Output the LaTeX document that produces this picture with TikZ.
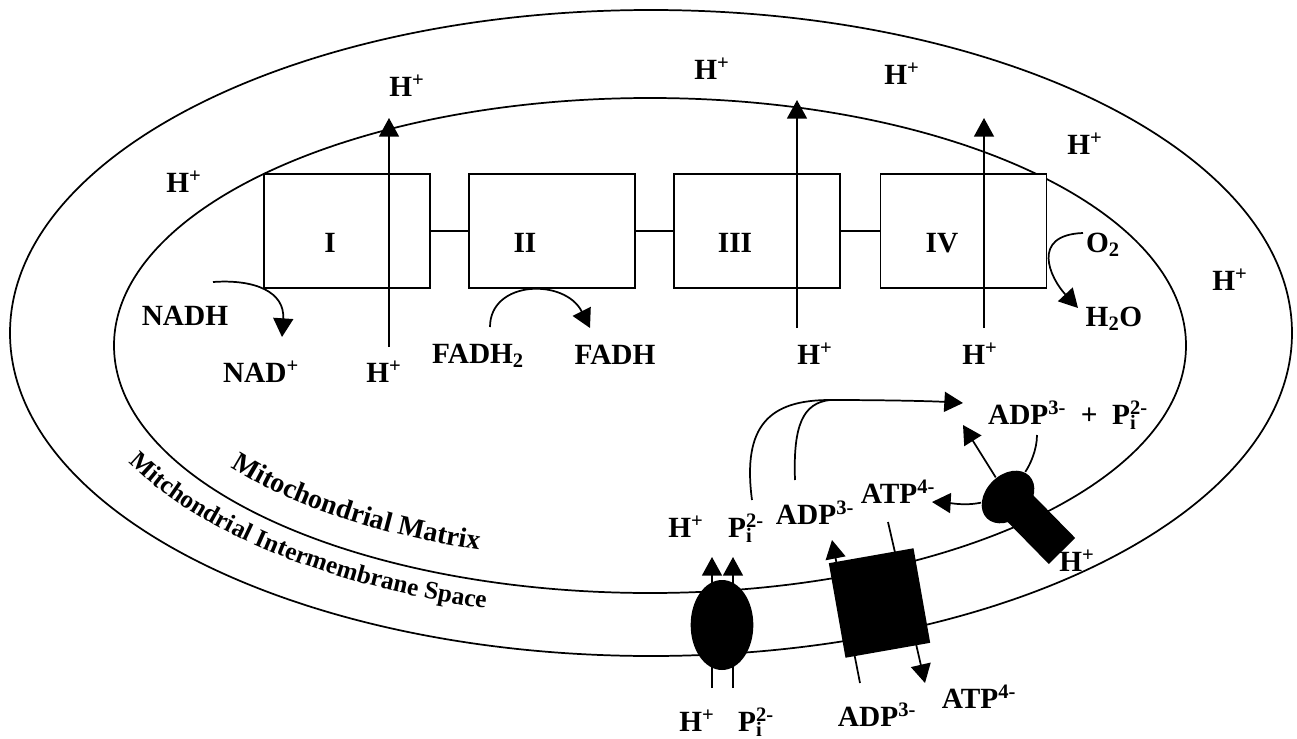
\documentclass[tikz,border=0pt]{standalone}
\usepackage{fontspec}
\setmainfont{Liberation Serif}
\usetikzlibrary{arrows.meta,shapes.geometric,decorations.text}
\newcommand{\Hp}{H\textsuperscript{+}}
\newcommand{\Pii}{P\rlap{\textsubscript{i}}\textsuperscript{2-}}

\begin{document}
\begin{tikzpicture}[x=0.75pt, y=-0.75pt, line width=1.3pt,
    >={Triangle[length=14pt, width=15pt]},
    lbl/.style={font=\fontsize{22}{24}\selectfont\bfseries, inner sep=0pt},
    cplx/.style={draw, fill=white, minimum width=124.5pt, minimum height=85.5pt},
    prot/.style={fill, inner sep=0pt},
    memb/.style 2 args={decorate, decoration={text along path,
        text={|\fontsize{#1}{24}\selectfont\bfseries|#2}}}]
\useasboundingbox (0,0) rectangle (1297,739);
% outer and inner membrane
\draw (651,333) ellipse [x radius=641, y radius=323];
\draw (650,345.5) ellipse [x radius=536, y radius=247.5];
\path[memb={21}{Mitochondrial Matrix}] (650,345.5) ++(146:506 and 217.5)
    arc[start angle=146, end angle=95, x radius=506, y radius=217.5];
\path[memb={19}{Mitchondrial Intermembrane Space}] (650,340) ++(154:580 and 280)
    arc[start angle=154, end angle=90, x radius=580, y radius=280];

% electron transport chain
\node[cplx] (c1) at (347,231) {};
\node[cplx] (c2) at (552,231) {};
\node[cplx] (c3) at (757,231) {};
\node[cplx] (c4) at (963.5,231) {};
\draw (c1) -- (c2) (c2) -- (c3) (c3) -- (c4);
\node[lbl] (n1) at (330,243) {I};
\node[lbl] (n2) at (525,243) {II};
\node[lbl] (n3) at (735,243) {III};
\node[lbl] (n4) at (942,243) {IV};

% protons
\node[lbl] (hL) at (184,182) {\Hp};
\node[lbl] (hT1) at (407,86) {\Hp};
\node[lbl] (hT2) at (712,69) {\Hp};
\node[lbl] (hT3) at (902,74) {\Hp};
\node[lbl] (hT4) at (1085,144) {\Hp};
\node[lbl] (hR) at (1230,280) {\Hp};
\node[lbl] (hM1) at (384,372) {\Hp};
\node[lbl] (hM3) at (815,354) {\Hp};
\node[lbl] (hM4) at (980,354) {\Hp};

% pumping through I, III and IV
\coordinate (p1a) at (389,347); \coordinate (p1b) at (389,118);
\coordinate (p3a) at (797,328); \coordinate (p3b) at (797,100);
\coordinate (p4a) at (984,328); \coordinate (p4b) at (984,118);
\draw[->] (p1a) -- (p1b);
\draw[->] (p3a) -- (p3b);
\draw[->] (p4a) -- (p4b);

% substrates
\node[lbl] (nadh) at (185,316) {NADH};
\node[lbl] (nad) at (261,372) {NAD\textsuperscript{+}};
\node[lbl] (fadh2) at (478,356) {FADH\textsubscript{2}};
\node[lbl] (fadh) at (615,355) {FADH};
\node[lbl] (o2) at (1103,245) {O\textsubscript{2}};
\node[lbl] (h2o) at (1114,319) {H\textsubscript{2}O};
\coordinate (r1a) at (213,282); \coordinate (r1b) at (282,337);
\coordinate (r2a) at (490,327); \coordinate (r2b) at (590,328);
\coordinate (r4a) at (1083,233); \coordinate (r4b) at (1078,308);
\draw[->] (r1a) .. controls (255,279) and (285,292) .. (r1b);
\draw[->] (r2a) .. controls (490,280) and (565,278) .. (r2b);
\draw[->] (r4a) .. controls (1030,235) and (1050,278) .. (r4b);

% transporters in the inner membrane
\node[prot, ellipse, minimum width=47pt, minimum height=67.5pt] (sym) at (722,625) {};
\node[prot, minimum width=64.5pt, minimum height=72pt, rotate=10] (ant) at (879.5,603) {};
\fill (996.8,511) -- (1048.8,564) -- (1075.2,538) -- (1023.2,485) -- cycle;
\node[prot, ellipse, minimum width=45pt, minimum height=33pt, rotate=45] (atps) at (1008,497) {};

\node[lbl] (hS) at (686,527) {\Hp};
\node[lbl] (piS) at (746,528) {\Pii};
\node[lbl] (adpM) at (815,513) {ADP\textsuperscript{3-}};
\node[lbl] (atpM) at (898,492) {ATP\textsuperscript{4-}};
\node[lbl] (hB) at (697,721) {\Hp};
\node[lbl] (piB) at (756,722) {\Pii};
\node[lbl] (adpB) at (877,715) {ADP\textsuperscript{3-}};
\node[lbl] (atpB) at (979,697) {ATP\textsuperscript{4-}};
\node[lbl] (hF) at (1077,561) {\Hp};
\node[lbl] (adpp) at (1068,415) {ADP\textsuperscript{3-}\hspace{.5em}+\hspace{.5em}\Pii};

\coordinate (s1a) at (712,688); \coordinate (s1b) at (712,557);
\coordinate (s2a) at (733,688); \coordinate (s2b) at (733,557);
\draw[->] (s1a) -- (s1b);
\draw[->] (s2a) -- (s2b);
\coordinate (t1a) at (860,683); \coordinate (t1b) at (832,540);
\coordinate (t2a) at (888,522); \coordinate (t2b) at (925,683);
\draw[->] (t1a) -- (t1b);
\draw[->] (t2a) -- (t2b);

% back to ADP + Pi
\coordinate (pi-up) at (752,500); \coordinate (adp-up) at (795,480);
\coordinate (ret) at (963,403); \coordinate (join) at (830,400);
\draw[->] (pi-up) .. controls (742,425) and (770,400) .. (join)
    .. controls (880,400) and (930,401) .. (ret);
\draw (adp-up) .. controls (793,425) and (803,403) .. (join);

% ATP synthase
\coordinate (a-up) at (963,425); \coordinate (a-left) at (932,502);
\coordinate (a-adp) at (1037,435);
\draw[->] (atps) -- (a-up);
\draw[->] (atps) .. controls (965,506) and (950,503) .. (a-left);
\draw (atps) .. controls (1030,465) and (1037,450) .. (a-adp);
\end{tikzpicture}
\end{document}
